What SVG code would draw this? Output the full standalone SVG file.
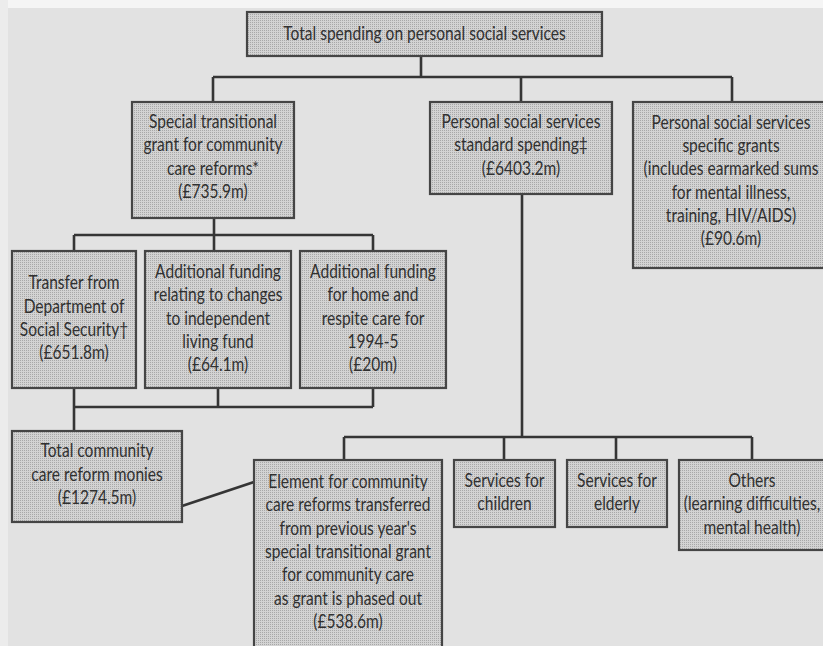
<svg xmlns="http://www.w3.org/2000/svg" width="823" height="646" viewBox="0 0 823 646">
<style>
.box{fill:url(#screen);stroke:#454545;stroke-width:2.2}
.t{font-family:Lato,"Open Sans","Liberation Sans",sans-serif;font-size:18.5px;fill:#303030;text-anchor:middle}
.c{fill:none;stroke:#353535;stroke-width:2.6}
</style>
<defs>
<pattern id="screen" width="2" height="2" patternUnits="userSpaceOnUse">
<rect width="2" height="2" fill="#d3d3d3"/>
<rect width="1" height="1" fill="#a8a8a8"/>
</pattern>
</defs>
<rect width="823" height="646" fill="#e2e2e2"/>
<rect width="823" height="8" fill="#f5f5f5"/>
<rect width="8" height="646" fill="#ececec"/>

<g id="connectors">
<path class="c" d="M421 56V77M213 77H732M213 77V102M521 77V102M732 77V102"/>
<path class="c" d="M214 218V251M74 235H373M74 235V251M373 235V251"/>
<path class="c" d="M74 388V431M218 388V407M373 388V407M74 407H373"/>
<path class="c" d="M182 506L254 482"/>
<path class="c" d="M522 194V437M344 437H752M344 437V460M504 437V460M616 437V460M752 437V460"/>
</g>

<g id="total-spending">
<rect class="box" x="247" y="12" width="355" height="44"/>
<g transform="translate(424.5 0) scale(0.84 1)"><text class="t" x="0" y="40">Total spending on personal social services</text></g>
</g>

<g id="special-transitional-grant">
<rect class="box" x="132" y="102" width="162" height="116"/>
<g transform="translate(213 0) scale(0.84 1)">
<text class="t" x="0" y="128">Special transitional</text>
<text class="t" x="0" y="151.5">grant for community</text>
<text class="t" x="0" y="175">care reforms*</text>
<text class="t" x="0" y="198.5">(£735.9m)</text>
</g>
</g>

<g id="standard-spending">
<rect class="box" x="430" y="102" width="182" height="92"/>
<g transform="translate(521 0) scale(0.84 1)">
<text class="t" x="0" y="128">Personal social services</text>
<text class="t" x="0" y="151.5">standard spending‡</text>
<text class="t" x="0" y="175">(£6403.2m)</text>
</g>
</g>

<g id="specific-grants">
<rect class="box" x="633" y="102" width="202" height="166"/>
<g transform="translate(731 0) scale(0.84 1)">
<text class="t" x="0" y="129">Personal social services</text>
<text class="t" x="0" y="152">specific grants</text>
<text class="t" x="0" y="175.5">(includes earmarked sums</text>
<text class="t" x="0" y="199">for mental illness,</text>
<text class="t" x="0" y="222">training, HIV/AIDS)</text>
<text class="t" x="0" y="245.5">(£90.6m)</text>
</g>
</g>

<g id="transfer-dss">
<rect class="box" x="12" y="251" width="124" height="137"/>
<g transform="translate(74 0) scale(0.84 1)">
<text class="t" x="0" y="289.5">Transfer from</text>
<text class="t" x="0" y="313">Department of</text>
<text class="t" x="0" y="336">Social Security†</text>
<text class="t" x="0" y="359.5">(£651.8m)</text>
</g>
</g>

<g id="independent-living">
<rect class="box" x="145" y="251" width="146" height="137"/>
<g transform="translate(218 0) scale(0.84 1)">
<text class="t" x="0" y="278">Additional funding</text>
<text class="t" x="0" y="301.5">relating to changes</text>
<text class="t" x="0" y="325">to independent</text>
<text class="t" x="0" y="348">living fund</text>
<text class="t" x="0" y="371.5">(£64.1m)</text>
</g>
</g>

<g id="home-respite">
<rect class="box" x="300" y="251" width="146" height="137"/>
<g transform="translate(373 0) scale(0.84 1)">
<text class="t" x="0" y="278">Additional funding</text>
<text class="t" x="0" y="301.5">for home and</text>
<text class="t" x="0" y="325">respite care for</text>
<text class="t" x="0" y="348">1994-5</text>
<text class="t" x="0" y="371.5">(£20m)</text>
</g>
</g>

<g id="total-community-care">
<rect class="box" x="12" y="431" width="170" height="91"/>
<g transform="translate(97 0) scale(0.84 1)">
<text class="t" x="0" y="457.5">Total community</text>
<text class="t" x="0" y="481">care reform monies</text>
<text class="t" x="0" y="504.5">(£1274.5m)</text>
</g>
</g>

<g id="element-transferred">
<rect class="box" x="254" y="460" width="188" height="200"/>
<g transform="translate(348 0) scale(0.84 1)">
<text class="t" x="0" y="488">Element for community</text>
<text class="t" x="0" y="511.5">care reforms transferred</text>
<text class="t" x="0" y="535">from previous year's</text>
<text class="t" x="0" y="558">special transitional grant</text>
<text class="t" x="0" y="581.5">for community care</text>
<text class="t" x="0" y="605">as grant is phased out</text>
<text class="t" x="0" y="628">(£538.6m)</text>
</g>
</g>

<g id="services-children">
<rect class="box" x="454" y="460" width="101" height="67"/>
<g transform="translate(504.5 0) scale(0.84 1)">
<text class="t" x="0" y="487">Services for</text>
<text class="t" x="0" y="510">children</text>
</g>
</g>

<g id="services-elderly">
<rect class="box" x="567" y="460" width="100" height="67"/>
<g transform="translate(617 0) scale(0.84 1)">
<text class="t" x="0" y="487">Services for</text>
<text class="t" x="0" y="510">elderly</text>
</g>
</g>

<g id="others">
<rect class="box" x="679" y="460" width="147" height="90"/>
<g transform="translate(752 0) scale(0.84 1)">
<text class="t" x="0" y="487">Others</text>
<text class="t" x="0" y="510.5">(learning difficulties,</text>
<text class="t" x="0" y="534">mental health)</text>
</g>
</g>
</svg>
